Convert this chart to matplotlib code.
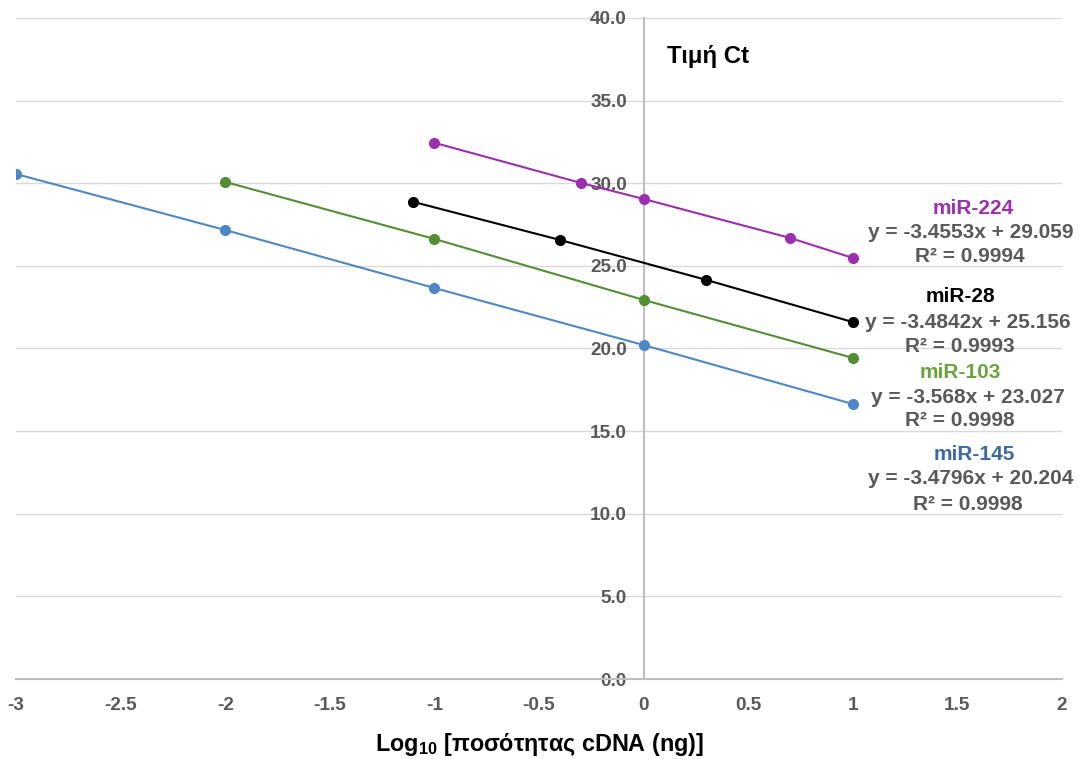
import matplotlib
matplotlib.use("Agg")
import matplotlib.pyplot as plt

plt.rcParams['font.family'] = ['Liberation Sans', 'DejaVu Sans']
plt.rcParams['mathtext.fontset'] = 'custom'
plt.rcParams['mathtext.rm'] = 'Liberation Sans:bold'
plt.rcParams['mathtext.bf'] = 'Liberation Sans:bold'
plt.rcParams['mathtext.it'] = 'Liberation Sans:bold'

# Data
x_224 = [-1, -0.3, 0, 0.7, 1]
y_224 = [32.45, 30.02, 29.05, 26.69, 25.48]
x_28 = [-1.1, -0.4, 0.3, 1]
y_28 = [28.87, 26.57, 24.15, 21.6]
x_103 = [-2, -1, 0, 1]
y_103 = [30.08, 26.63, 22.94, 19.43]
x_145 = [-3, -2, -1, 0, 1]
y_145 = [30.56, 27.17, 23.66, 20.21, 16.64]

series_names = ["miR-224", "miR-28", "miR-103", "miR-145"]
equations = ["y = -3.4553x + 29.059", "y = -3.4842x + 25.156",
             "y = -3.568x + 23.027", "y = -3.4796x + 20.204"]
r2_texts = ["R² = 0.9994", "R² = 0.9993", "R² = 0.9998", "R² = 0.9998"]

x_ticks = [-3, -2.5, -2, -1.5, -1, -0.5, 0, 0.5, 1, 1.5, 2]
x_tick_labels = ["-3", "-2.5", "-2", "-1.5", "-1", "-0.5", "0", "0.5", "1", "1.5", "2"]
y_ticks = [0, 5, 10, 15, 20, 25, 30, 35, 40]

line_colors = ["#9b2fae", "#000000", "#548d33", "#4f86c6"]
label_colors = ["#9b2fae", "#000000", "#6aa43c", "#3c6aa3"]

W, H = 1080, 759
fig = plt.figure(figsize=(W / 100, H / 100), dpi=100)
ax = fig.add_axes([16 / W, 1 - 679 / H, (1062 - 16) / W, (679 - 18) / H])
ax.set_xlim(-3, 2)
ax.set_ylim(0, 40)

grid_c = "#d9d9d9"
for yt in y_ticks[1:]:
    ax.axhline(yt, color=grid_c, lw=1.0, zorder=0)

for xs, ys, c in zip([x_224, x_28, x_103, x_145], [y_224, y_28, y_103, y_145], line_colors):
    ax.plot(xs, ys, color=c, lw=1.5, marker='o', ms=7, zorder=3)

for s in ['top', 'right']:
    ax.spines[s].set_visible(False)
ax.spines['left'].set_position(('data', 0))
ax.spines['left'].set_color("#bfbfbf")
ax.spines['left'].set_linewidth(1.5)
ax.spines['bottom'].set_color("#bfbfbf")
ax.spines['bottom'].set_linewidth(1.5)

ax.set_xticks(x_ticks)
ax.set_xticklabels(x_tick_labels)
ax.set_yticks(y_ticks)
ax.set_yticklabels([f"{v:.1f}" for v in y_ticks])
ax.tick_params(axis='both', length=0, labelsize=13.7, labelcolor="#595959")
ax.tick_params(axis='y', pad=12)
ax.tick_params(axis='x', pad=13)
for lab in ax.get_xticklabels() + ax.get_yticklabels():
    lab.set_fontweight('bold')

ax.set_xlabel("Log$_{10}$ [ποσότητας cDNA (ng)]", fontsize=16.8, fontweight='bold',
              color='black', labelpad=12)
fig.text(708 / W, 1 - 57 / H, "Τιμή Ct", fontsize=17.3, fontweight='bold',
         color='black', ha='center', va='center')

name_pos = [(973, 209), (960, 297), (960, 373), (974, 455)]
eq_pos = [(971, 232), (968, 322), (968, 397), (971, 479)]
r2_pos = [(970, 256), (960, 346), (960, 421), (968, 504)]
for i in range(4):
    fig.text(name_pos[i][0] / W, 1 - name_pos[i][1] / H, series_names[i], fontsize=15,
             fontweight='bold', color=label_colors[i], ha='center', va='center')
    fig.text(eq_pos[i][0] / W, 1 - eq_pos[i][1] / H, equations[i], fontsize=15,
             fontweight='bold', color="#595959", ha='center', va='center')
    fig.text(r2_pos[i][0] / W, 1 - r2_pos[i][1] / H, r2_texts[i], fontsize=15,
             fontweight='bold', color="#595959", ha='center', va='center')

fig.savefig("out.png", dpi=100)
